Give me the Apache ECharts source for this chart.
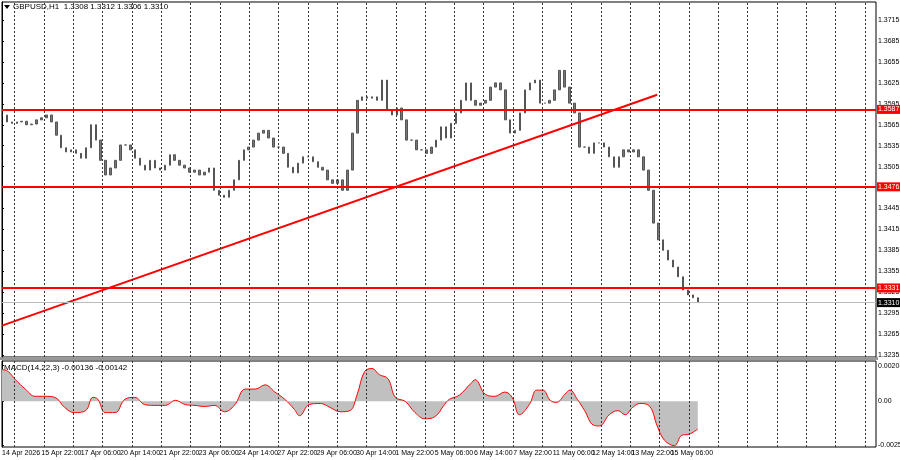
<!DOCTYPE html>
<html>
<head>
<meta charset="utf-8">
<script src="https://cdn.jsdelivr.net/npm/echarts@6/dist/echarts.min.js"></script>
<style>
  html, body { margin: 0; padding: 0; background: #fff; }
  #chart { width: 900px; height: 460px; }
</style>
</head>
<body>
<div id="chart"></div>
<script>
// GBPUSD H1 closes, one reading every ~4 trading hours
const closes = [
  1.3579, 1.3569, 1.3567, 1.3569, 1.3570, 1.3565, 1.3566, 1.3572, 1.3575, 1.3579,
  1.3569, 1.3550, 1.3532, 1.3526, 1.3529, 1.3524, 1.3517, 1.3532, 1.3565, 1.3543,
  1.3514, 1.3493, 1.3503, 1.3514, 1.3536, 1.3536, 1.3529, 1.3517, 1.3507, 1.3500,
  1.3514, 1.3503, 1.3500, 1.3507, 1.3522, 1.3514, 1.3507, 1.3503, 1.3497, 1.3500,
  1.3493, 1.3497, 1.3503, 1.3471, 1.3464, 1.3461, 1.3471, 1.3486, 1.3514, 1.3529,
  1.3533, 1.3543, 1.3553, 1.3557, 1.3546, 1.3533, 1.3533, 1.3524, 1.3504, 1.3496,
  1.3510, 1.3519, 1.3519, 1.3512, 1.3504, 1.3500, 1.3486, 1.3481, 1.3486, 1.3471,
  1.3500, 1.3553, 1.3600, 1.3605, 1.3603, 1.3605, 1.3600, 1.3629, 1.3586, 1.3579,
  1.3589, 1.3572, 1.3543, 1.3543, 1.3529, 1.3529, 1.3524, 1.3533, 1.3543, 1.3562,
  1.3546, 1.3567, 1.3582, 1.3600, 1.3625, 1.3600, 1.3593, 1.3596, 1.3600, 1.3619,
  1.3625, 1.3615, 1.3572, 1.3553, 1.3557, 1.3582, 1.3615, 1.3625, 1.3629, 1.3596,
  1.3596, 1.3600, 1.3615, 1.3643, 1.3619, 1.3596, 1.3582, 1.3533, 1.3533, 1.3524,
  1.3539, 1.3539, 1.3533, 1.3519, 1.3504, 1.3519, 1.3529, 1.3526, 1.3529, 1.3519,
  1.3500, 1.3471, 1.3424, 1.3400, 1.3385, 1.3371, 1.3361, 1.3347, 1.3328, 1.3321,
  1.3317, 1.3310
]
const lastHour = 566

// MACD readings: [hour, value]
const macd = [
  [0, 0.00181], [5, 0.00170], [11, 0.00123], [19, 0.00070], [27, 0.00029], [35, 0.00029],
  [43, 0.00023], [51, -0.00035], [59, -0.00064], [68, -0.00053], [74, 0.00023], [78, 0.00012],
  [84, -0.00064], [92, -0.00064], [100, 0.00012], [108, 0.00023], [116, -0.00018], [124, -0.00023],
  [133, -0.00023], [141, 0.00006], [149, -0.00018], [157, -0.00023], [165, -0.00029], [173, -0.00023],
  [181, -0.00059], [189, -0.00023], [198, 0.00070], [206, 0.00070], [214, 0.00094], [222, 0.00053],
  [230, 0.00012], [238, -0.00047], [242, -0.00082], [250, -0.00018], [259, -0.00012], [267, -0.00035],
  [275, -0.00059], [283, -0.00053], [289, 0.00041], [295, 0.00170], [301, 0.00187], [307, 0.00152],
  [314, 0.00129], [320, 0.00023], [328, 0], [336, -0.00064], [344, -0.00099], [352, -0.00088],
  [360, -0.00018], [364, 0.00012], [372, 0.00035], [381, 0.00099], [385, 0.00123], [393, 0.00041],
  [401, 0.00029], [409, 0.00053], [415, 0.00023], [421, -0.00076], [429, -0.00018], [435, 0.00064],
  [440, 0.00064], [446, 0.00006], [451, -0.00006], [458, 0.00041], [462, 0.00064], [468, 0.00012],
  [474, -0.00053], [481, -0.00135], [486, -0.00140], [494, -0.00076], [501, -0.00053], [507, -0.00076],
  [513, -0.00035], [519, -0.00012], [527, -0.00029], [533, -0.00140], [539, -0.00222], [547, -0.00252],
  [553, -0.00193], [559, -0.00187], [566, -0.00158]
]

const timeLabels = [
  '14 Apr 2026', '15 Apr 22:00', '17 Apr 06:00', '20 Apr 14:00', '21 Apr 22:00', '23 Apr 06:00',
  '24 Apr 14:00', '27 Apr 22:00', '29 Apr 06:00', '30 Apr 14:00', '1 May 22:00', '5 May 06:00',
  '6 May 14:00', '7 May 22:00', '11 May 06:00', '12 May 14:00', '13 May 22:00', '15 May 06:00'
]
const priceTicks = [
  1.3235, 1.3265, 1.3295, 1.3325, 1.3355, 1.3385, 1.3415, 1.3445, 1.3475, 1.3505,
  1.3535, 1.3565, 1.3595, 1.3625, 1.3655, 1.3685, 1.3715
]
const levels = [1.3587, 1.3476, 1.3331]
const lastPrice = 1.3310
const trend = [[0, 1.3277], [533, 1.3608]]

const step = lastHour / (closes.length - 1)
const candles = closes.map((c, i) => {
  const o = i === 0 ? c : closes[i - 1]
  return [i * step, o, c, Math.min(o, c), Math.max(o, c)]
})

const xMax = 711
const font = 'Liberation Sans'

// one dashed separator per trading day
const makeDayLines = () => {
  const data = []
  for (let h = 10.3; h < xMax; h += 23.85) data.push({ xAxis: +h.toFixed(2) })
  return {
    silent: true, symbol: 'none', precision: 4,
    lineStyle: { color: '#333', type: [2, 2], width: 1 },
    label: { show: false },
    data
  }
}

const tagLabel = (text, bg) => ({
  show: true, position: 'end', distance: 1, formatter: text, color: '#fff',
  backgroundColor: bg, fontSize: 7, padding: [1, 1], fontFamily: font
})

const chart = echarts.init(document.getElementById('chart'))
chart.setOption({
  animation: false,
  textStyle: { fontFamily: font },
  grid: [
    { left: 2, right: 24, top: 2, height: 355, show: true, borderColor: '#000', borderWidth: 1, outerBoundsMode: 'none', containLabel: false },
    { left: 2, right: 24, top: 361, height: 86, show: true, borderColor: '#000', borderWidth: 1, outerBoundsMode: 'none', containLabel: false }
  ],
  graphic: [
    { type: 'rect', shape: { x: 0, y: 357, width: 878, height: 3 }, style: { fill: '#999' } },
    { type: 'polygon', shape: { points: [[4, 5], [10, 5], [7, 9]] }, style: { fill: '#000' } },
    { type: 'text', left: 13, top: 3, style: { text: 'GBPUSD,H1  1.3308 1.3312 1.3306 1.3310', font: '8px ' + font, fill: '#000' } },
    { type: 'text', left: 4, top: 364, style: { text: 'MACD(14,22,3) -0.00136 -0.00142', font: '8px ' + font, fill: '#000' } }
  ],
  xAxis: [
    { type: 'value', gridIndex: 0, min: 0, max: xMax, show: false, splitLine: { show: false } },
    {
      type: 'value', gridIndex: 1, min: 0, max: xMax, interval: 32,
      axisLine: { show: false }, axisTick: { show: false }, splitLine: { show: false },
      axisLabel: {
        fontSize: 7, color: '#000', align: 'left', margin: 3, showMinLabel: true, showMaxLabel: false,
        hideOverlap: false, fontFamily: font,
        formatter: v => timeLabels[Math.round(v / 32)] || ''
      }
    }
  ],
  yAxis: [
    {
      type: 'value', gridIndex: 0, position: 'right', min: 1.3232, max: 1.3741, scale: true,
      axisLine: { show: true, lineStyle: { color: '#000' } },
      axisTick: { show: true, customValues: priceTicks, length: 2, lineStyle: { color: '#000' } },
      splitLine: { show: false },
      axisLabel: { customValues: priceTicks, fontSize: 7, color: '#000', margin: 2, fontFamily: font, formatter: v => v.toFixed(4) }
    },
    {
      type: 'value', gridIndex: 1, position: 'right', min: -0.0026, max: 0.0023,
      axisLine: { show: true, lineStyle: { color: '#000' } },
      axisTick: { show: true, customValues: [-0.0025, 0, 0.00203], length: 2, lineStyle: { color: '#000' } },
      splitLine: { show: false },
      axisLabel: {
        customValues: [-0.0025, 0, 0.00203], fontSize: 7, color: '#000', margin: 2, fontFamily: font,
        formatter: v => v === 0 ? '0.00' : (v < 0 ? '-0.0025' : '0.00203')
      }
    }
  ],
  series: [
    {
      type: 'candlestick', xAxisIndex: 0, yAxisIndex: 0, barWidth: 2,
      encode: { x: 0, y: [1, 2, 3, 4] },
      data: candles,
      itemStyle: { color: '#777', color0: '#777', borderColor: '#555', borderColor0: '#555', borderWidth: 1 },
      markLine: makeDayLines()
    },
    {
      type: 'line', xAxisIndex: 0, yAxisIndex: 0, data: trend, symbol: 'none', silent: true,
      lineStyle: { color: '#f00', width: 2 },
      markLine: {
        silent: true, symbol: 'none', precision: 4,
        data: [
          ...levels.map(v => ({
            yAxis: v,
            lineStyle: { color: '#f00', width: 2, type: 'solid' },
            label: tagLabel(v.toFixed(4), '#f00')
          })),
          {
            yAxis: lastPrice,
            lineStyle: { color: '#bbb', width: 1, type: 'solid' },
            label: tagLabel(lastPrice.toFixed(4), '#000')
          }
        ]
      }
    },
    {
      type: 'line', xAxisIndex: 1, yAxisIndex: 1, data: macd, symbol: 'none', smooth: 0.4,
      lineStyle: { color: '#f00', width: 1 },
      areaStyle: { color: '#c0c0c0', opacity: 1 },
      markLine: makeDayLines()
    }
  ]
})
</script>
</body>
</html>
